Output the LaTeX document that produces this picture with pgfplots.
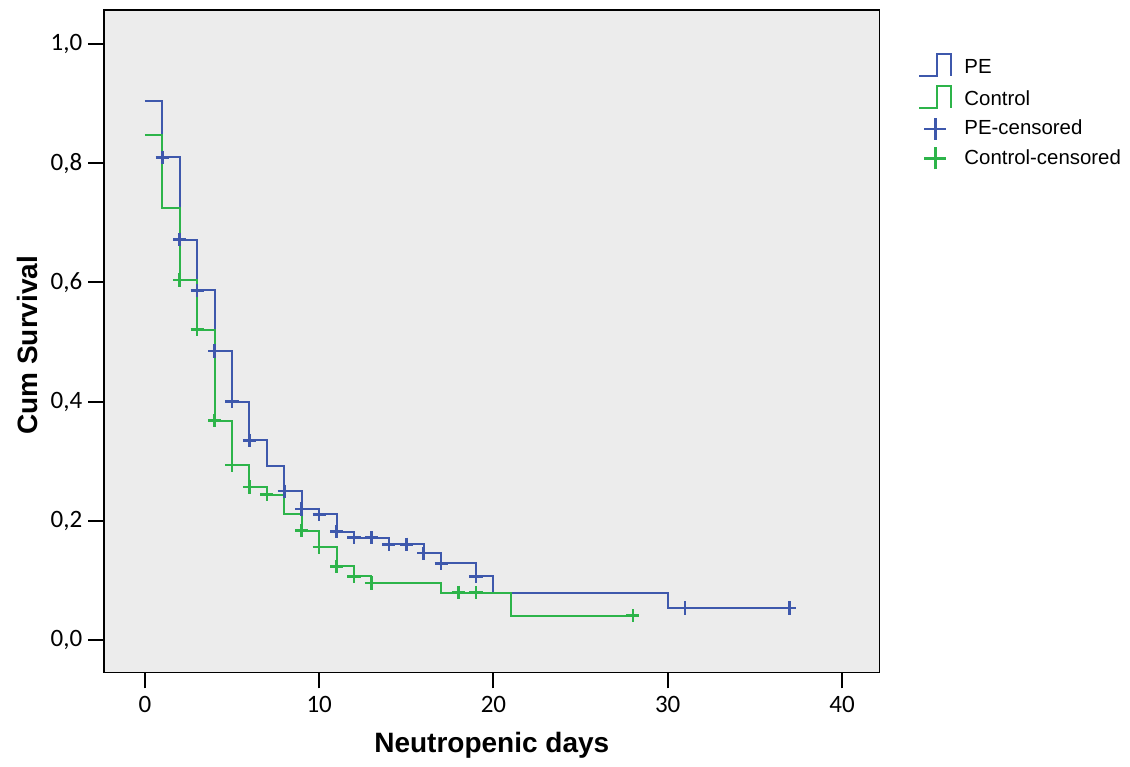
\documentclass[border=0pt]{standalone}
\usepackage{pgfplots}
\pgfplotsset{compat=1.18}
\usepackage{fontspec}
\setmainfont{Liberation Sans}
\newfontfamily\carlito{Carlito}
\definecolor{peblue}{RGB}{62,88,172}
\definecolor{ctgreen}{RGB}{45,180,74}
\definecolor{plotbg}{RGB}{236,236,236}

\begin{document}
\begin{tikzpicture}
\begin{axis}[
  at={(0,0)}, anchor=south west,
  scale only axis, width=387.5pt, height=331.2pt,
  xmin=-2.33, xmax=42.14, ymin=-0.054, ymax=1.057,
  axis background/.style={fill=plotbg},
  axis line style={line width=0.8pt},
  xtick={0,10,20,30,40},
  ytick={0,0.2,0.4,0.6,0.8,1.0},
  yticklabels={{0,0},{0,2},{0,4},{0,6},{0,8},{1,0}},
  tick align=outside, major tick length=8pt,
  tick style={line width=1pt, black},
  xtick pos=bottom, ytick pos=left,
  tick label style={font=\carlito\fontsize{12.5}{14}\selectfont},
  yticklabel style={xshift=0.5pt},
  xticklabel style={yshift=-0.5pt},
  /pgf/number format/assume math mode=true,
  xlabel={Neutropenic days}, ylabel={Cum Survival},
  label style={font=\bfseries\fontsize{14}{16}\selectfont},
  xlabel style={at={(axis description cs:0.5,-0.110)}, anchor=center},
  ylabel style={at={(axis description cs:-0.0996,0.494)}, anchor=center},
  legend cell align=left,
  legend style={draw=none, fill=none, at={(1.05,0.935)}, anchor=north west,
    font=\fontsize{10.2}{12}\selectfont, row sep=1.8pt, inner sep=0pt},
]
% PE
\addplot[const plot, peblue, line width=1pt,
  legend image code/.code={\draw[peblue,line width=1pt] (0pt,-4pt) -- (9pt,-4pt) -- (9pt,7pt) -- (16pt,7pt) -- (16pt,-4pt); \path (20pt,0pt);}]
  coordinates {(0,0.905)(1,0.81)(2,0.672)(3,0.587)(4,0.485)(5,0.40)(6,0.335)(7,0.292)(8,0.25)(9,0.22)(10,0.211)(11,0.182)(12,0.172)(14,0.161)(16,0.146)(17,0.129)(19,0.107)(20,0.08)(30,0.054)(37,0.054)};
\addlegendentry{PE}
% Control
\addplot[const plot, ctgreen, line width=1pt,
  legend image code/.code={\draw[ctgreen,line width=1pt] (0pt,-4pt) -- (9pt,-4pt) -- (9pt,7pt) -- (16pt,7pt) -- (16pt,-4pt); \path (20pt,0pt);}]
  coordinates {(0,0.847)(1,0.725)(2,0.604)(3,0.521)(4,0.368)(5,0.294)(6,0.257)(7,0.244)(8,0.211)(9,0.184)(10,0.156)(11,0.124)(12,0.107)(13,0.096)(17,0.08)(21,0.041)(28,0.041)};
\addlegendentry{Control}
% PE censored
\addplot[only marks, mark=+, mark size=3.3pt, peblue, mark options={line width=1.3pt},
  legend image code/.code={\draw[peblue,line width=1.2pt] (2.5pt,0pt) -- (13.5pt,0pt) (8pt,-5.5pt) -- (8pt,5.5pt); \path (20pt,0pt);}]
  coordinates {(1,0.81)(2,0.672)(3,0.587)(4,0.485)(5,0.40)(6,0.335)(8,0.25)(9,0.22)(10,0.211)(11,0.182)(12,0.172)(13,0.172)(14,0.161)(15,0.161)(16,0.146)(17,0.129)(19,0.107)(31,0.054)(37,0.054)};
\addlegendentry{PE-censored}
% Control censored
\addplot[only marks, mark=+, mark size=3.3pt, ctgreen, mark options={line width=1.3pt},
  legend image code/.code={\draw[ctgreen,line width=1.2pt] (2.5pt,0pt) -- (13.5pt,0pt) (8pt,-5.5pt) -- (8pt,5.5pt); \path (20pt,0pt);}]
  coordinates {(2,0.604)(3,0.521)(4,0.368)(5,0.294)(6,0.257)(7,0.244)(9,0.184)(10,0.156)(11,0.124)(12,0.107)(13,0.096)(18,0.08)(19,0.08)(28,0.041)};
\addlegendentry{Control-censored}
\end{axis}
\pgfresetboundingbox
\useasboundingbox (-52.15pt,-46.85pt) rectangle (512.85pt,336.2pt);
\end{tikzpicture}
\end{document}
